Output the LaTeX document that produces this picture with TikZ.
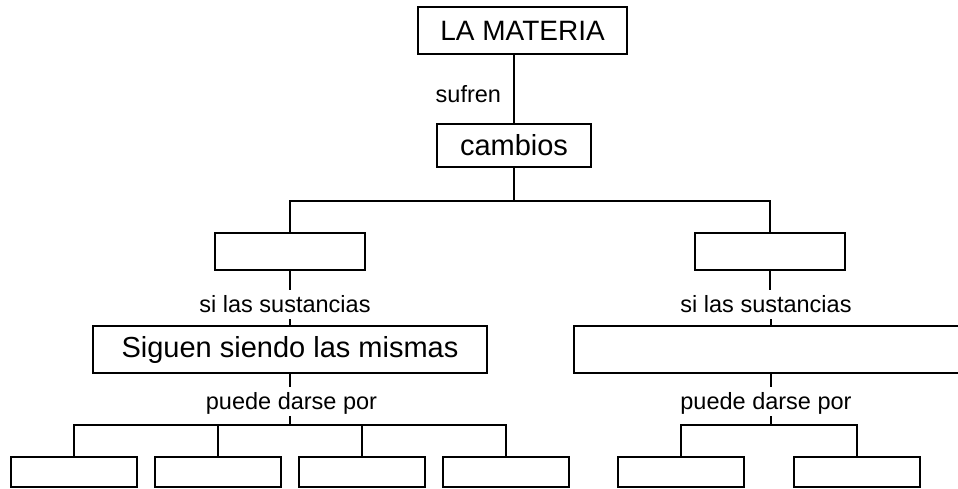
\documentclass[tikz,border=0pt]{standalone}
\usepackage{fontspec}
\setmainfont{Liberation Sans}
\usetikzlibrary{positioning}

\begin{document}
\begin{tikzpicture}[x=1pt, y=-1pt, line width=2pt,
  box/.style={draw, rectangle, inner sep=0pt, line width=2.2pt},
  hoja/.style={box, minimum width=126pt, minimum height=30pt},
  lbl/.style={inner xsep=1pt, inner ysep=1pt, text height=20pt, text depth=5pt,
    font=\fontsize{23.5}{26}\selectfont},
  big/.style={font=\fontsize{29}{32}\selectfont}]

  \useasboundingbox (0,0) rectangle (958,488);

  % boxes
  \node[box, minimum width=209pt, minimum height=47pt, font=\fontsize{28}{30}\selectfont]
    (materia) at (522.5,30.5) {LA MATERIA};
  \node[box, big, minimum width=154pt, minimum height=43pt] (cambios) at (514,145.5) {cambios};
  \node[box, minimum width=150pt, minimum height=37pt] (tipoA) at (290,251.5) {};
  \node[box, minimum width=150pt, minimum height=37pt] (tipoB) at (770,251.5) {};
  \node[box, big, minimum width=394pt, minimum height=47pt] (siguen) at (290,349.5) {Siguen siendo las mismas};
  \node[box, minimum width=394pt, minimum height=47pt] (noson) at (771,349.5) {};

  \foreach \x [count=\i] in {74,218,362,506,681,857}
    \node[hoja] (hoja\i) at (\x,472) {};

  % labels
  \node[lbl, anchor=east] (sufren) at (503,94.5) {sufren};
  \node[lbl] (siA) at (285,304.5) {si las sustancias};
  \node[lbl] (siB) at (766,304.5) {si las sustancias};
  \node[lbl] (pudA) at (291.5,401.5) {puede darse por};
  \node[lbl] (pudB) at (766,401.5) {puede darse por};

  % connectors
  \draw (cambios.north) -- (cambios.north |- materia.south);
  \coordinate (split) at (514,201);
  \draw (cambios.south) -- (split);
  \draw (tipoA.north) |- (split) -| (tipoB.north);

  \draw (tipoA.south) -- (tipoA.south |- siA.north);
  \draw (siguen.north |- siA.south) -- (siguen.north);
  \draw (tipoB.south) -- (tipoB.south |- siB.north);
  \draw (noson.north |- siB.south) -- (noson.north);

  \coordinate (splitA) at (290,425);
  \draw (siguen.south) -- (siguen.south |- pudA.north);
  \draw (splitA |- pudA.south) -- (splitA);
  \draw (hoja1.north) |- (splitA) -| (hoja4.north);
  \foreach \i in {2,3}
    \draw (hoja\i.north) -- (hoja\i.north |- splitA);

  \coordinate (splitB) at (771,425);
  \draw (noson.south) -- (noson.south |- pudB.north);
  \draw (splitB |- pudB.south) -- (splitB);
  \draw (hoja5.north) |- (splitB) -| (hoja6.north);

\end{tikzpicture}
\end{document}
